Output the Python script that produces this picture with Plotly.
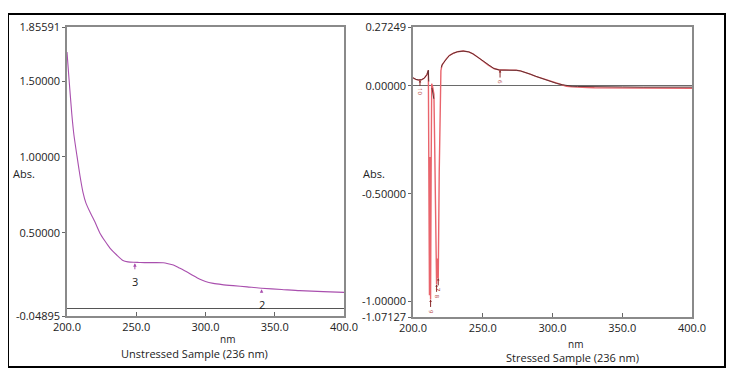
import plotly.graph_objects as go

W, H = 742, 379

# ---------------- data ----------------
# Unstressed sample spectrum
unstressed_nm = [200, 201.4, 203.4, 205.0, 207.2, 209.4, 211.5, 213.7, 216.6, 220.2, 223.8, 227.4, 231.0,
                 235.9, 240.4, 244, 247.9, 252, 256, 259.9, 264, 269.5, 273, 276.8,
                 281, 286.4, 291, 296, 300, 305.6, 312, 320, 330, 340.5, 355, 368, 385, 400]
unstressed_abs = [1.691, 1.520, 1.289, 1.144, 1.006, 0.874, 0.768, 0.695, 0.636, 0.570, 0.497, 0.445, 0.399,
                  0.353, 0.317, 0.308, 0.305, 0.304, 0.303, 0.303, 0.303, 0.302, 0.296, 0.287,
                  0.268, 0.243, 0.218, 0.193, 0.178, 0.166, 0.158, 0.151, 0.143, 0.134, 0.126, 0.118, 0.112, 0.107]
unstressed_peak_nm = [249.0, 340.5]
unstressed_peak_abs = [0.305, 0.134]
unstressed_peak_lbl = ["3", "2"]
unstressed_yticks = [1.85591, 1.5, 1.0, 0.5, -0.04895]
unstressed_ytext = ["1.85591", "1.50000", "1.00000", "0.50000", "-0.04895"]

# Stressed sample spectrum (two overlaid traces; None = no dark trace drawn there)
stressed_nm_dark = [200, 202, 204, 205, 206, 208, 210, 211, 211.3, 213.0, 213.6, 214.3, 214.9, 219.8,
                    220.3, 220.8, 222,
                    224, 226, 229, 232, 236, 240, 243, 247, 250, 254, 258, 262, 266, 270, 274, 277,
                    280, 284, 288, 293, 298, 303, 307, 310, 314, 318, 325, 330, 340, 350, 365, 380, 400]
stressed_abs_dark = [0.037, 0.030, 0.027, 0.027, 0.028, 0.035, 0.052, 0.072, 0.02, None, -0.01, -0.03,
                     -0.06, None, 0.085,
                     0.096, 0.108, 0.126, 0.140, 0.151, 0.158, 0.161, 0.157, 0.148, 0.130, 0.114, 0.096,
                     0.080, 0.073, 0.073, 0.073, 0.072, 0.069, 0.064, 0.054, 0.044, 0.033, 0.021, 0.011,
                     0.005, 0.001, -0.002, -0.003, -0.004, -0.004, -0.005, -0.005, -0.006, -0.006, -0.006]
stressed_nm_red = [200, 202, 204, 205, 206, 208, 210, 211, 211.4, 211.8, 212.2, 212.6, 213.0, 213.4,
                   214.2, 215.0, 215.6, 216.3, 216.9, 217.5, 218.1, 218.8, 219.4, 220.0, 220.8, 222,
                   224, 226, 229, 232, 236, 240, 243, 247, 250, 254, 258, 262, 266, 270, 274, 277,
                   280, 284, 288, 293, 298, 303, 307, 310, 314, 318, 325, 330, 340, 350, 365, 380, 400]
stressed_abs_red = [0.037, 0.030, 0.027, 0.027, 0.028, 0.035, 0.052, 0.072, -0.30, -0.97, -0.33, -0.99,
                    -0.40, 0.01, -0.01, -0.04, -0.30, -0.75, -0.92, -0.80, -0.89, -0.40, -0.02, 0.07,
                    0.096, 0.108, 0.126, 0.140, 0.151, 0.158, 0.161, 0.157, 0.148, 0.130, 0.114, 0.096,
                    0.080, 0.073, 0.073, 0.073, 0.072, 0.069, 0.064, 0.054, 0.044, 0.033, 0.021, 0.011,
                    0.004, -0.002, -0.005, -0.007, -0.008, -0.009, -0.009, -0.010, -0.010, -0.011, -0.011]
stressed_peak_nm = [205.0, 262.4, 212.6, 216.9, 218.1]
stressed_peak_abs = [0.027, 0.073, -0.99, -0.92, -0.89]
stressed_peak_lbl = ["10", "6", "9", "8", "7"]
stressed_yticks = [0.27249, 0.0, -0.5, -1.0, -1.07127]
stressed_ytext = ["0.27249", "0.00000", "-0.50000", "-1.00000", "-1.07127"]

xticks = [200, 250, 300, 350, 400]
xtext = ["200.0", "250.0", "300.0", "350.0", "400.0"]

# ---------------- figure ----------------
OFF = 8  # page body margin of the rendered html


def fx(px):
    return (px - OFF) / W


def fy(py):
    return 1 - (py - OFF) / H


PURPLE = "#a94fae"
RED = "#e9646c"
DARK = "#4e2a2a"
FONT = "Open Sans"

fig = go.Figure()
fig.add_trace(go.Scatter(x=unstressed_nm, y=unstressed_abs, mode="lines",
                         line=dict(color=PURPLE, width=1.1, shape="spline", smoothing=0.6),
                         xaxis="x", yaxis="y", showlegend=False, hoverinfo="skip"))
fig.add_trace(go.Scatter(x=stressed_nm_red, y=stressed_abs_red, mode="lines",
                         line=dict(color=RED, width=1.4), xaxis="x2", yaxis="y2",
                         showlegend=False, hoverinfo="skip"))
fig.add_trace(go.Scatter(x=stressed_nm_dark, y=stressed_abs_dark, mode="lines",
                         line=dict(color=DARK, width=0.9), xaxis="x2", yaxis="y2",
                         connectgaps=False, showlegend=False, hoverinfo="skip"))

axis_common = dict(showgrid=False, showline=True, linecolor="#8a8a8a", linewidth=1.5,
                   mirror=True, automargin=False,
                   tickfont=dict(family=FONT, size=11, color="#222"))

fig.update_layout(
    width=W, height=H,
    margin=dict(l=0, r=0, t=0, b=0, pad=0, autoexpand=False),
    paper_bgcolor="white", plot_bgcolor="white",
    showlegend=False,
    xaxis=dict(domain=[fx(67), fx(344)], range=[200, 400], anchor="y",
               tickvals=xticks, ticktext=xtext, ticks="inside", ticklen=4,
               tickcolor="#666", zeroline=False, **axis_common),
    yaxis=dict(domain=[fy(316), fy(27)], range=[-0.04895, 1.85591], anchor="x",
               tickvals=unstressed_yticks, ticktext=unstressed_ytext, ticks="outside",
               ticklen=3, tickcolor="#666", zeroline=True, zerolinecolor="#555",
               zerolinewidth=1, **axis_common),
    xaxis2=dict(domain=[fx(413), fx(692)], range=[200, 400], anchor="y2",
                tickvals=xticks, ticktext=xtext, ticks="inside", ticklen=4,
                tickcolor="#666", zeroline=False, **axis_common),
    yaxis2=dict(domain=[fy(317), fy(27)], range=[-1.07127, 0.27249], anchor="x2",
                tickvals=stressed_yticks, ticktext=stressed_ytext, ticks="outside",
                ticklen=3, tickcolor="#666", zeroline=True, zerolinecolor="#6a6a6a",
                zerolinewidth=1, **axis_common),
)

annots = []
for text, px, py, fs in [("nm", 227, 339, 10), ("Unstressed Sample (236 nm)", 194, 353, 11),
                         ("nm", 575, 344, 10), ("Stressed Sample (236 nm)", 572, 357, 11),
                         ("Abs.", 24, 173, 11), ("Abs.", 374, 173, 11)]:
    annots.append(dict(text=text, x=fx(px), y=fy(py), xref="paper", yref="paper",
                       showarrow=False, font=dict(family=FONT, size=fs, color="#222"),
                       xanchor="center", yanchor="middle"))

label_offsets = [19, 16]
for (nm, ab, lbl), off in zip(zip(unstressed_peak_nm, unstressed_peak_abs, unstressed_peak_lbl),
                              label_offsets):
    annots.append(dict(text=lbl, x=nm, y=ab, xref="x", yref="y", showarrow=True,
                       ax=0, ay=off, arrowhead=2, arrowsize=0.7, arrowwidth=1,
                       arrowcolor=PURPLE, standoff=1, startstandoff=3,
                       font=dict(family=FONT, size=11, color="#222")))

for nm, ab, lbl in zip(stressed_peak_nm, stressed_peak_abs, stressed_peak_lbl):
    annots.append(dict(text=lbl, x=nm, y=ab, xref="x2", yref="y2", showarrow=True,
                       ax=0, ay=12, arrowhead=2, arrowsize=0.5, arrowwidth=1,
                       arrowcolor="#8a2a2a", standoff=0, startstandoff=1, textangle=90,
                       font=dict(family=FONT, size=6, color="#b03a3a")))

fig.update_layout(annotations=annots)

fig.add_shape(type="rect", xref="paper", yref="paper",
              x0=fx(8), x1=fx(725), y0=fy(367), y1=fy(14),
              line=dict(color="black", width=2), fillcolor="rgba(0,0,0,0)")

fig.write_html("out.html")
